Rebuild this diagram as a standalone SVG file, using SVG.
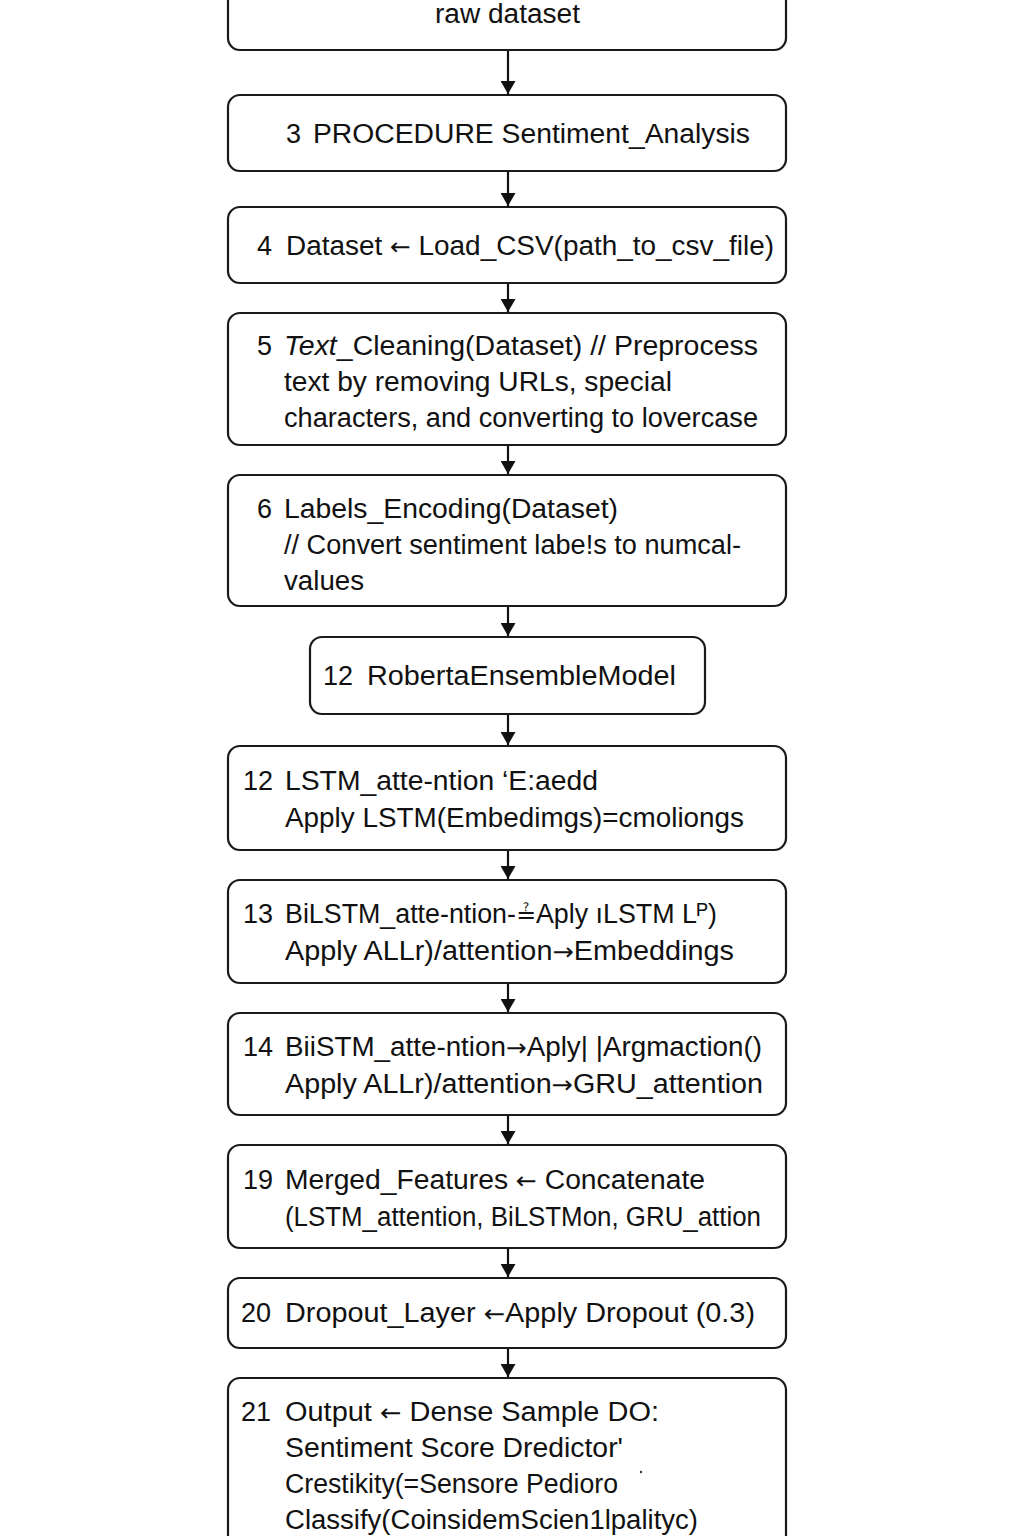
<svg xmlns="http://www.w3.org/2000/svg" width="1024" height="1536" viewBox="0 0 1024 1536">
  <defs>
    <style>
      .box { fill: #ffffff; stroke: #1a1a1a; stroke-width: 2.2; }
      .t { font-family: "Liberation Sans", Arial, sans-serif; font-size: 27px; fill: #111111; }
      .sym { font-family: "DejaVu Sans", sans-serif; font-size: 24px; }
      .edge { stroke: #111111; stroke-width: 2.2; fill: none; }
    </style>
    <marker id="arrow" viewBox="0 0 13 15" refX="13" refY="7.5" markerWidth="13" markerHeight="15" markerUnits="userSpaceOnUse" orient="auto">
      <path d="M0,0 L13,7.5 L0,15 Z" fill="#111111"/>
    </marker>
  </defs>
  <rect width="1024" height="1536" fill="#ffffff"/>

  <!-- connectors -->
  <g id="connectors">
    <line class="edge" x1="508" y1="50" x2="508" y2="94" marker-end="url(#arrow)"/>
    <line class="edge" x1="508" y1="171" x2="508" y2="206" marker-end="url(#arrow)"/>
    <line class="edge" x1="508" y1="283" x2="508" y2="312" marker-end="url(#arrow)"/>
    <line class="edge" x1="508" y1="445" x2="508" y2="474" marker-end="url(#arrow)"/>
    <line class="edge" x1="508" y1="606" x2="508" y2="636" marker-end="url(#arrow)"/>
    <line class="edge" x1="508" y1="714" x2="508" y2="745" marker-end="url(#arrow)"/>
    <line class="edge" x1="508" y1="850" x2="508" y2="879" marker-end="url(#arrow)"/>
    <line class="edge" x1="508" y1="983" x2="508" y2="1012" marker-end="url(#arrow)"/>
    <line class="edge" x1="508" y1="1115" x2="508" y2="1144" marker-end="url(#arrow)"/>
    <line class="edge" x1="508" y1="1248" x2="508" y2="1277" marker-end="url(#arrow)"/>
    <line class="edge" x1="508" y1="1348" x2="508" y2="1377" marker-end="url(#arrow)"/>
  </g>

  <!-- step nodes -->
  <g id="node-raw">
    <rect class="box" x="228" y="-30" width="558" height="80" rx="12"/>
    <text class="t" x="435" y="23" textLength="145" lengthAdjust="spacingAndGlyphs">raw dataset</text>
  </g>

  <g id="node-3">
    <rect class="box" x="228" y="95" width="558" height="76" rx="12"/>
    <text class="t" x="286" y="143">3</text>
    <text class="t" x="313" y="143" textLength="437" lengthAdjust="spacingAndGlyphs">PROCEDURE Sentiment_Analysis</text>
  </g>

  <g id="node-4">
    <rect class="box" x="228" y="207" width="558" height="76" rx="12"/>
    <text class="t" x="257" y="255">4</text>
    <text class="t" x="286" y="255" textLength="488" lengthAdjust="spacingAndGlyphs">Dataset <tspan class="sym">←</tspan> Load_CSV(path_to_csv_file)</text>
  </g>

  <g id="node-5">
    <rect class="box" x="228" y="313" width="558" height="132" rx="12"/>
    <text class="t" x="257" y="355">5</text>
    <text class="t" x="284" y="355" textLength="474" lengthAdjust="spacingAndGlyphs"><tspan font-style="italic">Text</tspan>_Cleaning(Dataset)  // Preprocess</text>
    <text class="t" x="284" y="391" textLength="388" lengthAdjust="spacingAndGlyphs">text by removing URLs, special</text>
    <text class="t" x="284" y="427" textLength="474" lengthAdjust="spacingAndGlyphs">characters, and converting to lovercase</text>
  </g>

  <g id="node-6">
    <rect class="box" x="228" y="475" width="558" height="131" rx="12"/>
    <text class="t" x="257" y="518">6</text>
    <text class="t" x="284" y="518" textLength="334" lengthAdjust="spacingAndGlyphs">Labels_Encoding(Dataset)</text>
    <text class="t" x="284" y="554" textLength="457" lengthAdjust="spacingAndGlyphs">// Convert sentiment labe!s to numcal-</text>
    <text class="t" x="284" y="590" textLength="80" lengthAdjust="spacingAndGlyphs">values</text>
  </g>

  <g id="node-model">
    <rect class="box" x="310" y="637" width="395" height="77" rx="12"/>
    <text class="t" x="323" y="685">12</text>
    <text class="t" x="367" y="685" textLength="309" lengthAdjust="spacingAndGlyphs">RobertaEnsembleModel</text>
  </g>

  <g id="node-12">
    <rect class="box" x="228" y="746" width="558" height="104" rx="12"/>
    <text class="t" x="243" y="790">12</text>
    <text class="t" x="285" y="790" textLength="313" lengthAdjust="spacingAndGlyphs">LSTM_atte-ntion ‘E:aedd</text>
    <text class="t" x="285" y="827" textLength="459" lengthAdjust="spacingAndGlyphs">Apply LSTM(Embedimgs)=cmoliongs</text>
  </g>

  <g id="node-13">
    <rect class="box" x="228" y="880" width="558" height="103" rx="12"/>
    <text class="t" x="243" y="923">13</text>
    <text class="t" x="285" y="923" textLength="432" lengthAdjust="spacingAndGlyphs">BiLSTM_atte-ntion-<tspan class="sym">≟</tspan>Aply ıLSTM Lᴾ)</text>
    <text class="t" x="285" y="960" textLength="449" lengthAdjust="spacingAndGlyphs">Apply ALLr)/attention<tspan class="sym">→</tspan>Embeddings</text>
  </g>

  <g id="node-14">
    <rect class="box" x="228" y="1013" width="558" height="102" rx="12"/>
    <text class="t" x="243" y="1056">14</text>
    <text class="t" x="285" y="1056" textLength="477" lengthAdjust="spacingAndGlyphs">BiiSTM_atte-ntion<tspan class="sym">→</tspan>Aply| |Argmaction()</text>
    <text class="t" x="285" y="1093" textLength="478" lengthAdjust="spacingAndGlyphs">Apply ALLr)/attention<tspan class="sym">→</tspan>GRU_attention</text>
  </g>

  <g id="node-19">
    <rect class="box" x="228" y="1145" width="558" height="103" rx="12"/>
    <text class="t" x="243" y="1189">19</text>
    <text class="t" x="285" y="1189" textLength="420" lengthAdjust="spacingAndGlyphs">Merged_Features <tspan class="sym">←</tspan> Concatenate</text>
    <text class="t" x="285" y="1226" textLength="476" lengthAdjust="spacingAndGlyphs">(LSTM_attention, BiLSTMon, GRU_attion</text>
  </g>

  <g id="node-20">
    <rect class="box" x="228" y="1278" width="558" height="70" rx="12"/>
    <text class="t" x="241" y="1322">20</text>
    <text class="t" x="285" y="1322" textLength="470" lengthAdjust="spacingAndGlyphs">Dropout_Layer <tspan class="sym">←</tspan>Apply Dropout (0.3)</text>
  </g>

  <g id="node-21">
    <rect class="box" x="228" y="1378" width="558" height="190" rx="12"/>
    <text class="t" x="241" y="1421">21</text>
    <text class="t" x="285" y="1421" textLength="374" lengthAdjust="spacingAndGlyphs">Output <tspan class="sym">←</tspan> Dense Sample DO:</text>
    <text class="t" x="285" y="1457" textLength="338" lengthAdjust="spacingAndGlyphs">Sentiment Score Dredictor'</text>
    <text class="t" x="285" y="1493" textLength="333" lengthAdjust="spacingAndGlyphs">Crestikity(=Sensore Pedioro</text>
    <text class="t" x="285" y="1529" textLength="413" lengthAdjust="spacingAndGlyphs">Classify(CoinsidemScien1lpalityc)</text>
    <circle cx="641" cy="1472" r="1.2" fill="#333333"/>
  </g>
</svg>
